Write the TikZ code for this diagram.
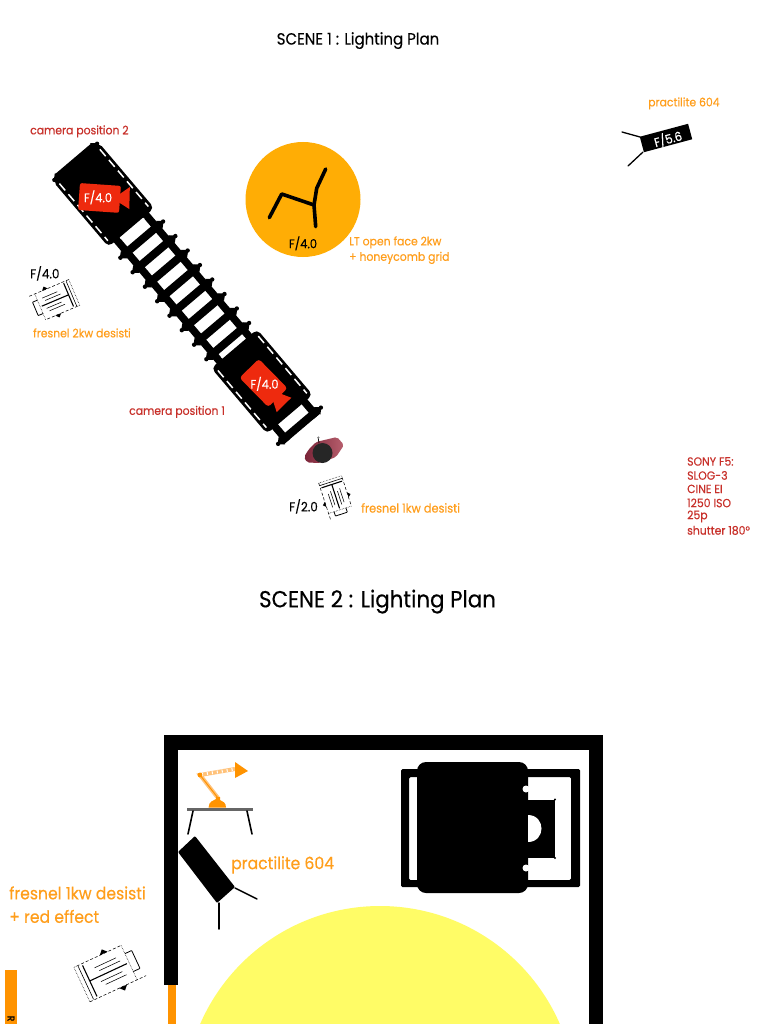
\documentclass[tikz,border=0pt]{standalone}
\usepackage{fontspec}
\setmainfont[FakeStretch=0.92,FakeBold=0.35]{Poppins}
\definecolor{txtorange}{HTML}{FF9E1B}
\definecolor{txtred}{HTML}{C8302A}
\definecolor{amber}{HTML}{FFAD05}
\definecolor{camred}{HTML}{EE2A0E}
\definecolor{lampor}{HTML}{FF9300}
\definecolor{lamplt}{HTML}{FFC27A}
\definecolor{yel}{HTML}{FFFC66}
\definecolor{maroondk}{HTML}{7A2438}
\definecolor{maroonlt}{HTML}{B8606E}
\tikzset{
 lab/.style={inner sep=0pt,anchor=west,yshift=-0.4pt,font=\fontsize{11.8}{13}\selectfont},
 orlab/.style={lab,text=txtorange},
 redlab/.style={lab,text=txtred},
 blk/.style={lab,text=black,font=\fontsize{13}{14}\selectfont},
 biglab/.style={lab,text=txtorange,font=\fontsize{17}{19}\selectfont},
 title/.style={inner sep=0pt,yshift=-1.6pt,text=black},
 inlab/.style={inner sep=0pt,yshift=-0.4pt,font=\fontsize{12.5}{14}\selectfont},
 blkline/.style={draw=black,line width=#1,line cap=round,line join=round},
 blkline/.default=3pt,
 fres/.style={line width=0.55pt,draw=black}
}
% cx, cy, angle, length, width
\newcommand\fresnelicon[5]{%
 \begin{scope}[shift={(#1,#2)},rotate=#3,xscale=#4,yscale=#5]
  \draw[fres,densely dotted] (-.5,.5) -- (-.5,-.5) -- (-.45,-.5);
  \draw[fres,densely dashed] (-.5,.5) -- (.5,.5) (-.45,-.5) -- (.34,-.5);
  \draw[fres,densely dotted] (.34,-.5) -- (.34,.5);
  \draw[draw=black,line width=1.1pt] (-.36,-.45) -- (-.36,.45);
  \draw[draw=black,line width=.6pt] (-.43,-.48) -- (-.43,.48);
  \draw[draw=black,line width=1.1pt] (-.36,0) -- (.30,0);
  \draw[fres] (-.20,-.26) -- (.18,-.26) (-.15,-.14) -- (.22,-.14) (-.20,.14) -- (.18,.14) (-.15,.26) -- (.22,.26);
  \draw[draw=black,line width=.8pt,rounded corners=.5pt] (.34,-.26) -- (.46,-.26) -- (.46,.26) -- (.34,.26);
  \fill[black] (-.04,-.5) -- (.10,-.5) -- (.03,-.62) -- cycle;
  \fill[black] (.02,.5) -- (.16,.5) -- (.09,.62) -- cycle;
 \end{scope}}
% dolly at axis position s
\newcommand\dollybody[1]{%
  \fill[black,rounded corners=5pt] (#1-43,-30) rectangle (#1+43,30);
  \draw[white,line width=1.5pt,dash pattern=on 9pt off 5pt] (#1-37,-26.5) -- (#1+38,-26.5) (#1-37,26.5) -- (#1+38,26.5);
}
% tie with rounded knobs at axis position s
\newcommand\trackboard[1]{%
  \fill[black] (#1-4,-24) rectangle (#1+4,24);
  \fill[black] (#1-5,-23) -- (#1-1.6,-27) -- (#1+1.6,-27) -- (#1+5,-23) -- cycle;
  \fill[black] (#1-5,23) -- (#1-1.6,27) -- (#1+1.6,27) -- (#1+5,23) -- cycle;
  \fill[black] (#1,-28) circle (2.2) (#1,28) circle (2.2);
}
\begin{document}
\begin{tikzpicture}[x=1pt,y=-1pt]
\useasboundingbox[fill=white] (0,0) rectangle (768,1024);
\clip (0,0) rectangle (768,1024);

\node[title,font=\fontsize{16.3}{18}\selectfont] (t1) at (358,39) {SCENE 1 : Lighting Plan};
\node[title,font=\fontsize{23.2}{25}\selectfont] (t2) at (377.5,600) {SCENE 2 : Lighting Plan};

% amber circle and chair
\fill[amber] (303,199.5) circle (57.5);
\draw[blkline=3.6pt] (269.3,217.7) -- (281.7,194) -- (314,205) -- (315.7,226.7);
\draw[blkline=3.6pt] (314,205) -- (316.7,188.3) -- (325.7,169);
\node[inlab] (f40c) at (303,243) {F/4.0};

% dolly track
\begin{scope}[shift={(262,381.5)},rotate=-49.7]
 \foreach \s in {58,-53,-72,-91,-110,-129,-148,-167,-186} { \trackboard{\s} }
 \fill[black] (-290,-23) rectangle (62,-15.5);
 \fill[black] (-290,15.5) rectangle (62,23);
 \trackboard{-288}
 \dollybody{0}
 \dollybody{-245}
 \draw[white,line width=1.4pt,line cap=round] (-44.5,-15) -- (-44.5,15);
 \draw[white,line width=1.4pt,line cap=round] (-200.5,-15) -- (-200.5,15);
\end{scope}

% camera 2
\begin{scope}[shift={(100,198)},rotate=-4]
 \fill[camred,rounded corners=2pt] (-21,-13.5) rectangle (20,13.5);
 \fill[camred] (19,-5) -- (29,-13) -- (30,9) -- (19,3) -- cycle;
\end{scope}
\node[inlab,text=white] (cam2t) at (98,197) {F/4.0};
% camera 1
\begin{scope}[shift={(263.5,383)},rotate=-45.5]
 \fill[camred,rounded corners=3pt] (-20.5,-13.5) rectangle (20.5,13.5);
 \fill[camred] (18,-4) -- (30,-9.5) -- (30,11) -- (18,5) -- cycle;
\end{scope}
\node[inlab,text=white] (cam1t) at (264.5,383.5) {F/4.0};

% actor
\shade[left color=maroondk,right color=maroonlt,rounded corners=2pt] (316,442) -- (337,437) -- (344,445) -- (336,457) -- (320,463) -- (307,462.5) -- (304,457) -- (309,449) -- cycle;
\fill[black!85] (322.5,453) circle (10);
\draw[black,line width=.7pt] (318,437) -- (319,443);
\fill[black!50!white] (318.5,437.5) circle (1.2);

% fresnels
\fresnelicon{336}{497.5}{-72}{38}{24}
\fresnelicon{54}{301}{203}{44}{28}
\fresnelicon{110}{971.5}{25}{62}{38}

% practilite top right
\begin{scope}[shift={(666,138)},rotate=15]
 \fill[black] (-25,-8) rectangle (25,8);
\end{scope}
\draw[blkline=1.3pt] (622,132) -- (640,137);
\draw[blkline=1.3pt] (643,152) -- (628,166);
\node[inlab,rotate=15,text=white] (f56) at (668,138.5) {F/5.6};

% labels scene 1
\node[orlab] (pr1) at (648,103) {practilite 604};
\node[redlab] (cp2) at (30,131) {camera position 2};
\node[orlab] (lt1) at (349,242) {LT open face 2kw};
\node[orlab] (lt2) at (349,257.5) {+ honeycomb grid};
\node[blk] (f40a) at (30,273) {F/4.0};
\node[orlab] (fr2) at (33,332.5) {fresnel 2kw desisti};
\node[redlab] (cp1) at (129,411.5) {camera position 1};
\node[blk] (f20) at (289,506) {F/2.0};
\node[orlab,font=\fontsize{12.3}{14}\selectfont] (fr1) at (361,507.5) {fresnel 1kw desisti};
\node[redlab] (s1) at (687,461) {SONY F5:};
\node[redlab] (s2) at (687,475) {SLOG-3};
\node[redlab] (s3) at (687,488.5) {CINE EI};
\node[redlab] (s4) at (687,502.5) {1250 ISO};
\node[redlab] (s5) at (687,516) {25p};
\node[redlab] (s6) at (687,530) {shutter 180°};

% scene 2: yellow circle
\fill[yel] (380,1102) circle (196);

% room walls
\fill[black] (164,735) rectangle (603,750);
\fill[black] (164,735) rectangle (178,985);
\fill[black] (589,735) rectangle (603,1024);
\fill[lampor] (168,985) rectangle (176,1024);

% table and lamp
\fill[black!60] (187,807.5) rectangle (253,810.5);
\draw[blkline=1.6pt] (193,811) -- (188,834);
\draw[blkline=1.6pt] (247,811) -- (252,834);
\draw[lamplt,line width=4pt] (218,798) -- (200,775) -- (235,769);
\draw[white,line width=3pt,dash pattern=on 1pt off 4pt] (202,774.5) -- (235,769);
\draw[lampor,line width=1pt] (218,798) -- (200,775);
\fill[lampor] (208.5,807.5) .. controls (209,801) and (213,801) .. (216,799) -- (216,797) -- (220,797) -- (220,800) .. controls (223,801) and (226,803) .. (226,807.5) -- cycle;
\fill[lampor] (200,775) circle (2.4);
\fill[lampor] (235,762) -- (248,771) -- (235,778) -- cycle;
% practilite panel
\fill[black,rounded corners=1pt] (195,836) -- (235,887) -- (217,903) -- (178,852) -- cycle;
\draw[blkline=1.5pt] (235,888) -- (257,899);
\draw[blkline=1.5pt] (219,903) -- (219,929);
\node[biglab] (pr2) at (231,864.5) {practilite 604};

% bed
\fill[black,rounded corners=1.5pt,even odd rule] (401,769) rectangle (580,887) (409,777) rectangle (571,880);
\fill[black,rounded corners=9pt] (417,762) rectangle (528,893);
\fill[black] (526,800) rectangle (555,858);
\fill[black] (555,799.5) circle (1.2) (555,858) circle (1.2);
\fill[white] (528,815) .. controls (537,815) and (541.5,822) .. (541.5,828.5) .. controls (541.5,835) and (537,842) .. (528,842) -- cycle;
\fill[white] (526,789) circle (3.5) (526,868) circle (3.5);

% fresnel labels scene 2
\node[biglab] (fr3) at (9,892.5) {fresnel 1kw desisti};
\node[biglab] (fr4) at (9,916) {+ red effect};

% orange strip
\fill[lampor] (4.5,970) rectangle (17,1024);
\node[inner sep=0pt,rotate=-90,anchor=west,font=\fontsize{10}{12}\selectfont] (rtxt) at (11,1015.5) {R};
\end{tikzpicture}
\end{document}
